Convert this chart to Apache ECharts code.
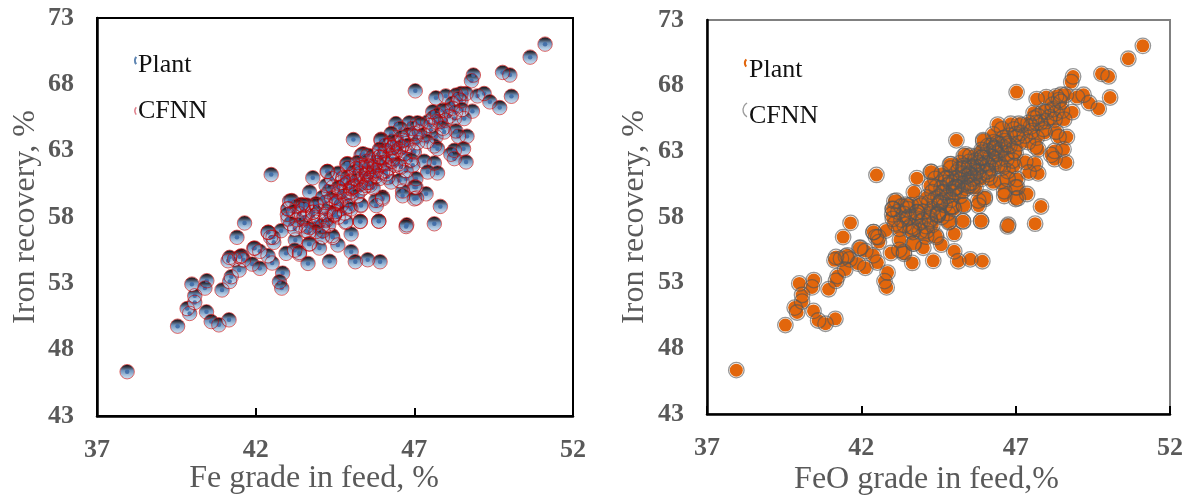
<!DOCTYPE html>
<html><head><meta charset="utf-8">
<script src="https://cdn.jsdelivr.net/npm/echarts@6/dist/echarts.min.js"></script>
<style>html,body{margin:0;padding:0;background:#fff}#c{width:1192px;height:497px}</style>
</head><body><div id="c"></div>
<script>
const xTicks = [37, 42, 47, 52];
const yTicks = [43, 48, 53, 58, 63, 68, 73];
const seriesNames = ['Plant', 'CFNN'];
const xTitles = ['Fe grade in feed, %', 'FeO grade in feed,%'];
const yTitle = 'Iron recovery, %';
const gradeA = [37.95,39.54,39.92,39.84,40.08,40.08,39.99,40.46,40.4,40.45,40.6,40.84,41.16,40.94,41.18,41.23,41.48,41.13,41.34,41.55,41.62,41.89,42.13,42.52,42.39,42.13,41.94,41.41,41.65,42.85,42.75,42.82,42.4,42.47,42.57,42.96,43.38,43.65,44.33,44.01,44.59,45.01,45.14,45.53,45.92,45.01,44.41,45.88,45.29,44.83,43.25,43.7,43.23,42.8,43.23,43.67,44.12,44.22,43.38,43.02,43.8,44.48];
const recoveryA = [46.34,49.77,50.73,51.1,51.56,52.06,52.94,53.2,52.64,50.85,50.12,49.87,50.25,52.5,53.14,53.5,54,54.7,54.83,55.08,54.78,54.45,54.13,54.53,55.08,55.41,55.64,56.47,57.55,53.77,53.12,52.64,56.85,56.47,56.09,55.26,55.2,54.5,54.66,55.66,55.89,55.39,54.63,54.78,54.63,56.72,56.6,57.68,57.68,57.6,56.27,55.97,55.5,56.97,57.1,56.85,56.97,57.73,58.23,58.61,58.36,58.18];
const gradeB = [48.86,48.8,49.78,50.01,50.65,51.12,50.06,47.03,47.68,47.99,48.47,48.31,48.63,48.99,49.2,49.38,49.69,48.83,48.47,48.2,47.89,47.58,47.73,48.26,48.57,47.99,47.68,47.42,47.1,46.84,46.42,46.56,46.95,47.52,47.16,48.31,48.66,48.39,47.94,47.68,47.05,46.27,45.95,45.08,46.21,46.48,46.74,47,47.63,47.73,48.55,48.26,48.15,48.26,48.63,47.31,47.63,47.42,47.73,46.95,46.58,46.32,45.9,45.32,45.53,44.9,45.32,45.74,44.27,43.8,44.75,46.16,46.74,47.05,46.27,47,46.63,47.37,47.07,47.82,46.76,47.63];
const recoveryB = [68.7,68.27,68.9,68.7,70.05,71.03,67.1,67.51,66.98,67.13,67.31,67.19,67.31,67.13,67.31,66.68,66.25,65.98,66.76,66.56,66.05,65.93,65.67,65.42,65.42,65.3,65.17,65.17,65.1,65.1,65.04,64.67,64.67,64.54,64.41,64.49,64.09,64.09,64.41,64.04,64.09,64.29,63.86,63.84,63.41,63.53,63.53,62.9,63.36,63.15,63.15,63.03,62.73,62.4,62.15,62.2,62.07,61.39,61.32,61.9,61.77,62.4,62.53,62.65,62.65,62.02,61.9,61.77,61.44,60.96,60.96,61,60.89,60.89,60.64,60.26,59.96,59.75,59.43,58.8,57.41,57.49];
const gradeC = [45.88,45.3,44.85,46,45.79,45.32,44.96,44.54,45,44.48,44.12,43.7,44.22,45.48,44.64,45.64,43.54,44,43.49,43.9,42.49,44.25,44.87,43.14,43.44,43.02,43.91,43.8,43.02,44.22,44.48,44.54,44.9,45.32,45.8,46,46.63,47,46.74,43.59,44.43,42.55,42.39,41.97,41.5,41.18,43.38,43.68,44.75,45.17,45.48,45.9,46.32,45.95,46.63,46.95,46.53,45.58,45.06,44.43,46.11,46.74,47.05,45.38,43.07,43.3,43.6,43,43.3,43.6,43.9,44.2,44.5,44.7,44.9,45.1,45.3,45.5,45.7,45.9,46.1,46.3,44.4,44.7,45,45.3,45.6,45.9,46.1,46.4,46.7,44.3,44.6,44.9,45.2,45.5,45.8,46.05,46.35];
const recoveryC = [57.69,57.66,57.66,59.5,59.25,58.92,58.82,59,60.13,58.12,59.5,59.88,60.38,60.38,59.88,61,58,57.74,58.87,59,61.2,61.43,62,59.24,58.94,58.61,58.86,58.36,57.85,57.85,58.23,59.1,58.79,58.86,58.86,59.37,59.6,59.37,57.28,56.97,56.47,56.47,56.85,55.66,55,54.96,55.33,55.97,60.88,61.63,61.76,62.5,63.27,63.77,63.77,63,60.75,60.62,60.25,60.25,61.26,61.5,60.25,62.77,59.2,58.8,58.9,58.2,57.8,57.3,57.6,58.2,59.5,59.9,60.6,60.9,61.3,61.9,62.3,62.9,63.4,63.7,60.9,60.6,60.2,60,60.4,60.9,61.5,61.9,62.4,59.9,61.3,61.7,62.1,61.2,61.5,62.1,62.9];
const gradeD = [43.5,43.7,43.8,44,44.1,44.2,44.3,44.4,44.5,44.6,44.6,44.7,44.8,44.8,44.9,44.9,45,45,45.1,45.1,45.2,45.2,45.3,45.3,45.4,45.4,45.5,45.5,45.5,45.6,45.6,45.7,45.7,45.7,45.8,45.8,45.9,45.9,46,46,46.1,46.1,46.2,46.2,46.3,46.3,46.4,46.4,46.5,46.5,46.6,46.6,46.7,46.8,46.8,46.9,47,47.1,47.2,47.3,47.4,47.5,47.6,47.8,47.9,48,48.1,48.2,48.3,48.4,48.5,43.2,43.5,43.1,43.4,43.9,44.1,44.3,44.6,44.8,45];
const recoveryD = [57.9,57.2,58.1,58.4,57.3,59.1,58.6,59.4,58.4,60.2,59.2,58.9,60.4,59.6,61,59.3,60.7,59.9,61.4,60.3,59.6,60.8,61.7,60.5,61.1,60.2,62.2,61.3,60.6,61.8,60.9,62.6,61.4,60.2,62.1,61.1,63.1,61.9,62.5,61.4,63,62,62.6,61.7,63.2,62.2,63.6,62.8,63.1,62,64,63.3,62.8,64.2,63.4,62.3,64.3,63.6,65,64.2,63.7,64.9,65.5,65.2,64.7,66,65.6,66.2,65.9,66.9,66.1,58.4,58.6,57.5,57.4,56.9,56.5,57.4,58,58.3,58.6];
const plantX = gradeA.concat(gradeB, gradeC, gradeD);
const plantY = recoveryA.concat(recoveryB, recoveryC, recoveryD);
const points = plantX.map((x, i) => [x, plantY[i]]);

const serif = '"Liberation Serif","Times New Roman",serif';
const gray = '#595959';
const sphere = new echarts.graphic.LinearGradient(0, 0, 0, 1, [
  {offset: 0, color: '#1c0f14'}, {offset: 0.16, color: '#343642'},
  {offset: 0.42, color: '#7094bc'}, {offset: 0.82, color: '#b4cce4'}, {offset: 1, color: '#c8d9ec'}
]);
const plots = [
  {left: 97, right: 619, top: 18, bottom: 81, border: '#000', xGap: 47, yGap: 55, pad: [0, 42, 0, 0]},
  {left: 707, right: 22, top: 20, bottom: 83, border: '#808080', xGap: 50, yGap: 56, pad: [0, 24, 0, 0]}
];
const grid = plots.map(p => ({left: p.left, right: p.right, top: p.top, bottom: p.bottom, show: true,
  outerBoundsMode: 'none', borderColor: p.border, borderWidth: 2, backgroundColor: '#fff', containLabel: false}));
const xAxis = plots.map((p, i) => ({
  type: 'value', gridIndex: i, min: 37, max: 52, splitLine: {show: false},
  name: xTitles[i], nameLocation: 'middle', nameGap: p.xGap, nameMoveOverlap: false,
  nameTextStyle: {fontFamily: serif, fontSize: 32, color: gray, padding: p.pad},
  axisLine: {show: true, onZero: false, lineStyle: {color: '#000', width: 2.5}},
  axisTick: {show: true, inside: true, length: 8, customValues: xTicks, lineStyle: {color: '#000', width: 2}},
  axisLabel: {customValues: xTicks, margin: 21, fontFamily: serif, fontSize: 26, fontWeight: 'bold', color: gray, showMinLabel: true, showMaxLabel: true}
}));
const yAxis = plots.map((p, i) => ({
  type: 'value', gridIndex: i, min: 43, max: 73, splitLine: {show: false},
  name: yTitle, nameLocation: 'middle', nameGap: p.yGap, nameRotate: 90, nameMoveOverlap: false,
  nameTextStyle: {fontFamily: serif, fontSize: 32, color: gray},
  axisLine: {show: true, onZero: false, lineStyle: {color: '#000', width: 2.5}},
  axisTick: {show: false, customValues: yTicks},
  axisLabel: {customValues: yTicks, margin: 23, padding: [6, 0, 0, 0], fontFamily: serif, fontSize: 26, fontWeight: 'bold', color: gray, showMinLabel: true, showMaxLabel: true}
}));
const silent = {silent: true, animation: false};
const series = [
  Object.assign({name: seriesNames[0], type: 'scatter', xAxisIndex: 0, yAxisIndex: 0, data: points, symbolSize: 14,
    itemStyle: {color: sphere, opacity: 1}}, silent),
  Object.assign({name: 'Plant centre', type: 'scatter', xAxisIndex: 0, yAxisIndex: 0, data: points, symbolSize: 4.5,
    itemStyle: {color: '#3f6ca6', opacity: 0.9}}, silent),
  Object.assign({name: seriesNames[1], type: 'scatter', xAxisIndex: 0, yAxisIndex: 0, data: points, symbolSize: 14.5,
    itemStyle: {color: 'rgba(0,0,0,0)', borderColor: 'rgba(196,0,0,0.58)', borderWidth: 1, opacity: 1}}, silent),
  Object.assign({name: seriesNames[0], type: 'scatter', xAxisIndex: 1, yAxisIndex: 1, data: points, symbolSize: 13,
    itemStyle: {color: '#e2660c', opacity: 1}}, silent),
  Object.assign({name: seriesNames[1], type: 'scatter', xAxisIndex: 1, yAxisIndex: 1, data: points, symbolSize: 15.5,
    itemStyle: {color: 'rgba(0,0,0,0)', borderColor: 'rgba(85,85,85,0.62)', borderWidth: 1.3, opacity: 1}}, silent)
];
const legendText = (t, x, y) => ({type: 'text', left: x, top: y, z: 20, style: {text: t, font: '26px ' + serif, fill: '#111'}});
const legendArc = (cx, cy, r, a0, a1, color, w) => ({type: 'arc', z: 20,
  shape: {cx, cy, r, startAngle: a0, endAngle: a1}, style: {stroke: color, fill: 'none', lineWidth: w}});
const graphic = [
  legendArc(141, 60.5, 6, 2.5, 3.8, '#5f86b3', 2),
  legendArc(141, 111, 6, 2.5, 3.8, '#e0808c', 1.5),
  legendText(seriesNames[0], 138, 52),
  legendText(seriesNames[1], 138, 98),
  legendArc(751, 63, 6, 2.5, 3.8, '#e2660c', 2),
  legendArc(751, 110, 8, 2.1, 4.2, '#999', 1.3),
  legendText(seriesNames[0], 749, 57),
  legendText(seriesNames[1], 749, 103)
];
echarts.init(document.getElementById('c'), null, {renderer: 'canvas'}).setOption({
  animation: false, backgroundColor: '#fff', grid, xAxis, yAxis, series, graphic, tooltip: {show: false}
});
</script></body></html>
